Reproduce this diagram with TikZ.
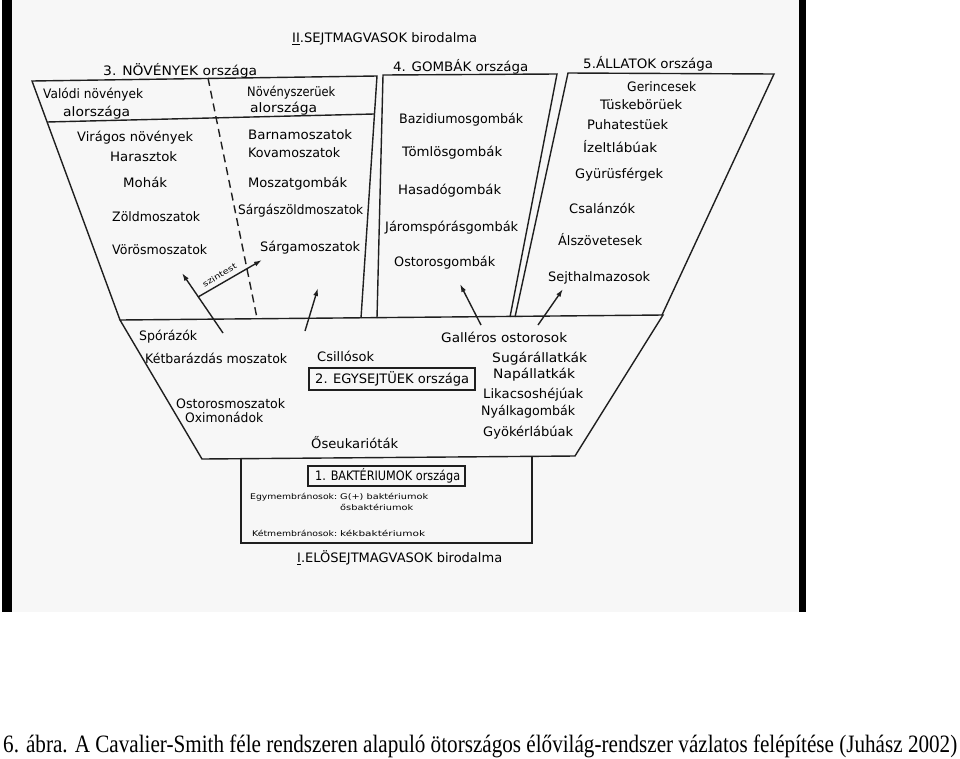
\documentclass[tikz,border=0pt]{standalone}
\usepackage{fontspec}
\usepackage{graphicx}
\usetikzlibrary{arrows.meta}
\newfontfamily\lett{DejaVu Sans}
\newfontfamily\capfont{Liberation Serif}
\newcommand{\fitw}[2]{\resizebox{#1pt}{\height}{#2}}
\tikzset{
  lab/.style={anchor=west, inner sep=0pt, font=\lett\fontsize{13}{14}\selectfont, text height=9.6pt, text depth=3pt},
  slab/.style={anchor=west, inner sep=0pt, font=\lett\fontsize{7.8}{8}\selectfont, text height=5.8pt, text depth=1.9pt},
  ln/.style={line width=1.4pt, draw=black!88},
  arr/.style={ln, -{Latex[length=8pt,width=5pt]}},
  kbox/.style={draw=black!88, line width=1.3pt, inner sep=0pt}
}
\begin{document}
\begin{tikzpicture}[x=1pt,y=-1pt]
\useasboundingbox (0,0) rectangle (960,758);
\fill[white] (0,0) rectangle (960,758);
% scan area and black edges
\fill[black!3] (12,0) rectangle (799,612);
\fill[black] (2,0) rectangle (12,612);
\fill[black] (799,0) rectangle (806,612);

% ---- coordinates
\coordinate (pTL) at (32,81);
\coordinate (pTR) at (377,76);
\coordinate (pBR) at (361,318);
\coordinate (mTL) at (120,320);
\coordinate (mTR) at (663,315);
\coordinate (mBR) at (575,456);
\coordinate (mBL) at (202,459);
\coordinate (fBL) at (377,318);
\coordinate (fTL) at (383,75);
\coordinate (fTR) at (557,74);
\coordinate (fBR) at (510,317);
\coordinate (aBL) at (515,317);
\coordinate (aTL) at (568,73);
\coordinate (aTR) at (774,74);
\coordinate (aBR) at (662,315);
\coordinate (bTL) at (241,458);
\coordinate (bBL) at (241,543);
\coordinate (bBR) at (532,543);
\coordinate (bTR) at (532,457);
\coordinate (sub1) at (47,122);
\coordinate (sub2) at (374,114);
\coordinate (dash1) at (208,78);
\coordinate (dash2) at (257,318);

% ---- kingdoms
\draw[ln] (mTL) -- (pTL) -- (pTR) -- (pBR);
\draw[ln] (sub1) -- (sub2);
\draw[ln, dash pattern=on 8pt off 5pt] (dash1) -- (dash2);
\draw[ln] (fBL) -- (fTL) -- (fTR) -- (fBR);
\draw[ln] (aBL) -- (aTL) -- (aTR) -- (aBR);
\draw[ln] (mTL) -- (mTR) -- (mBR) -- (mBL) -- cycle;
\draw[ln] (bTL) -- (bBL) -- (bBR) -- (bTR);

% ---- titles
\node[lab] (t2) at (292,39) {\fitw{185}{\underline{II}.SEJTMAGVASOK birodalma}};
\node[lab] (k3) at (103,72) {\fitw{154}{3. NÖVÉNYEK országa}};
\node[lab] (k4) at (393,68) {\fitw{135}{4. GOMBÁK országa}};
\node[lab] (k5) at (583,65) {\fitw{130}{5.ÁLLATOK országa}};

% ---- plants
\node[lab] (p1) at (43,95) {\fitw{100}{Valódi növények}};
\node[lab] (p2) at (63,113) {\fitw{67}{alországa}};
\node[lab] (p3) at (247,93) {\fitw{88}{Növényszerüek}};
\node[lab] (p4) at (250,109) {\fitw{67}{alországa}};
\node[lab] (p5) at (77,138) {\fitw{116}{Virágos növények}};
\node[lab] (p6) at (110,158) {\fitw{67}{Harasztok}};
\node[lab] (p7) at (123,184) {\fitw{44}{Mohák}};
\node[lab] (p8) at (112,218) {\fitw{88}{Zöldmoszatok}};
\node[lab] (p9) at (112,251) {\fitw{95}{Vörösmoszatok}};
\node[lab] (p10) at (248,136) {\fitw{104}{Barnamoszatok}};
\node[lab] (p11) at (248,154) {\fitw{92}{Kovamoszatok}};
\node[lab] (p12) at (248,184) {\fitw{99}{Moszatgombák}};
\node[lab] (p13) at (238,211) {\fitw{125}{Sárgászöldmoszatok}};
\node[lab] (p14) at (260,248) {\fitw{100}{Sárgamoszatok}};

% ---- fungi
\node[lab] (f1) at (399,120) {\fitw{124}{Bazidiumosgombák}};
\node[lab] (f2) at (402,153) {\fitw{100}{Tömlösgombák}};
\node[lab] (f3) at (398,191) {\fitw{103}{Hasadógombák}};
\node[lab] (f4) at (385,228) {\fitw{133}{Járomspórásgombák}};
\node[lab] (f5) at (394,263) {\fitw{101}{Ostorosgombák}};

% ---- animals
\node[lab] (a1) at (627,88) {\fitw{69}{Gerincesek}};
\node[lab] (a2) at (600,106) {\fitw{82}{Tüskebörüek}};
\node[lab] (a3) at (587,126) {\fitw{81}{Puhatestüek}};
\node[lab] (a4) at (583,149) {\fitw{74}{Ízeltlábúak}};
\node[lab] (a5) at (575,175) {\fitw{88}{Gyürüsférgek}};
\node[lab] (a6) at (569,210) {\fitw{66}{Csalánzók}};
\node[lab] (a7) at (558,242) {\fitw{84}{Álszövetesek}};
\node[lab] (a8) at (548,278) {\fitw{102}{Sejthalmazosok}};

% ---- protists
\node[lab] (e1) at (139,337) {\fitw{58}{Spórázók}};
\node[lab] (e2) at (145,360) {\fitw{142}{Kétbarázdás moszatok}};
\node[lab] (e3) at (317,358) {\fitw{57}{Csillósok}};
\node[lab] (e4) at (441,339) {\fitw{126}{Galléros ostorosok}};
\node[lab] (e5) at (492,359) {\fitw{95}{Sugárállatkák}};
\node[lab] (e6) at (493,375) {\fitw{82}{Napállatkák}};
\node[lab] (e7) at (483,395) {\fitw{100}{Likacsoshéjúak}};
\node[lab] (e8) at (481,412) {\fitw{94}{Nyálkagombák}};
\node[lab] (e9) at (483,433) {\fitw{90}{Gyökérlábúak}};
\node[lab] (e10) at (176,405) {\fitw{109}{Ostorosmoszatok}};
\node[lab] (e11) at (185,419) {\fitw{78}{Oximonádok}};
\node[lab] (e12) at (311,445) {\fitw{87}{Őseukarióták}};
\draw[kbox] (309,368) rectangle (475,390);
\node[lab] (ebox) at (315,380) {\fitw{154}{2. EGYSEJTÜEK országa}};

% ---- bacteria
\draw[kbox] (308,466) rectangle (465,486);
\node[lab] (bbox) at (315,477) {\fitw{145}{1. BAKTÉRIUMOK országa}};
\node[slab] (b1) at (250,498) {\fitw{87}{Egymembránosok:}};
\node[slab] (b2) at (340,498) {\fitw{88}{G(+) baktériumok}};
\node[slab] (b3) at (340,509) {\fitw{73}{ősbaktériumok}};
\node[slab] (b4) at (252,535) {\fitw{85}{Kétmembránosok:}};
\node[slab] (b5) at (340,535) {\fitw{85}{kékbaktériumok}};
\node[lab] (t1) at (297,559) {\fitw{205}{\underline{I}.ELÖSEJTMAGVASOK birodalma}};

% ---- arrows
\coordinate (r1s) at (223,333); \coordinate (r1e) at (182,273);
\coordinate (r2s) at (198,297); \coordinate (r2e) at (262,260);
\coordinate (r3s) at (305,331); \coordinate (r3e) at (318,288);
\coordinate (r4s) at (481,325); \coordinate (r4e) at (460,284);
\coordinate (r5s) at (538,325); \coordinate (r5e) at (563,289);
\draw[arr] (r1s) -- (r1e);
\draw[arr] (r2s) -- (r2e);
\draw[arr] (r3s) -- (r3e);
\draw[arr] (r4s) -- (r4e);
\draw[arr] (r5s) -- (r5e);
\node[slab, anchor=center, rotate=31] (szin) at (220,276) {\fitw{38}{szintest}};

% ---- caption
\node[anchor=base west, inner sep=0pt, font=\capfont\fontsize{25}{27}\selectfont] (cap) at (3,752)
  {\fitw{954}{6. ábra. A Cavalier-Smith féle rendszeren alapuló ötországos élővilág-rendszer vázlatos felépítése (Juhász 2002)}};
\end{tikzpicture}
\end{document}
